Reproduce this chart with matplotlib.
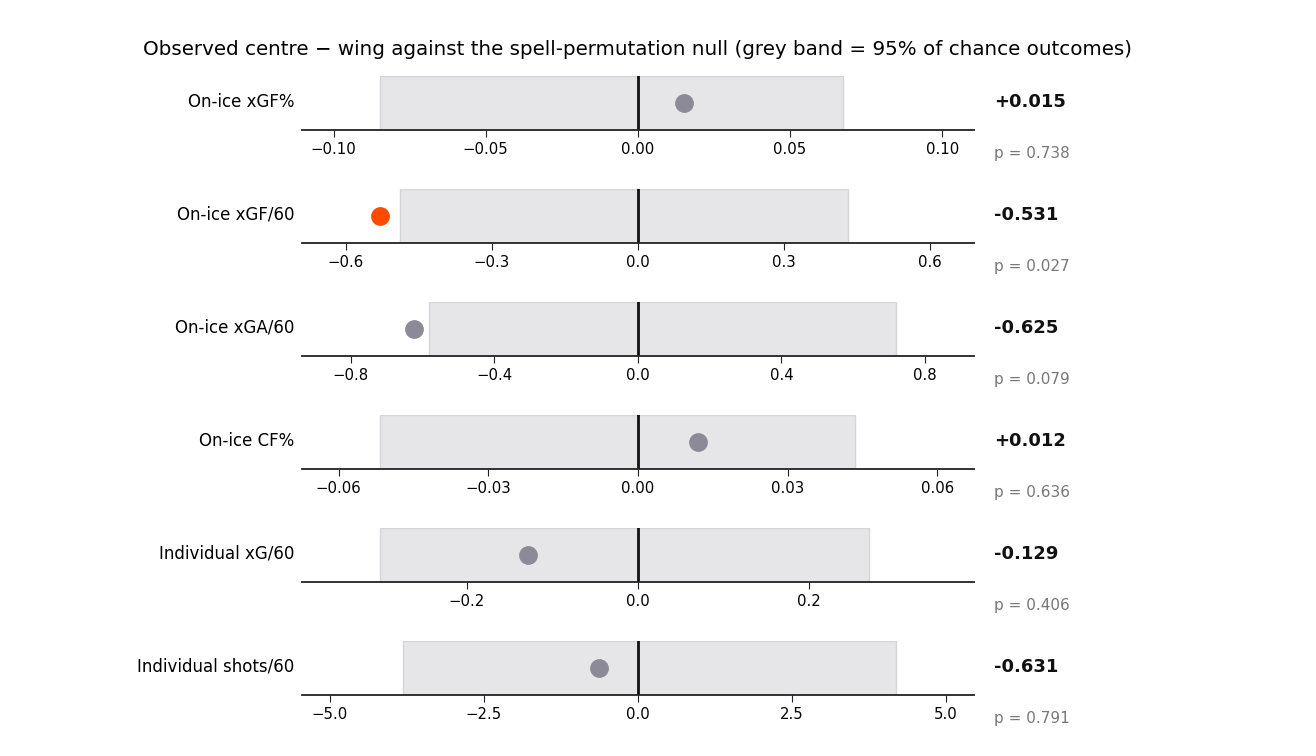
import numpy as np
import matplotlib.pyplot as plt

# metrics, observed centre - wing difference, null 95% band, permutation p
metrics = ["On-ice xGF%", "On-ice xGF/60", "On-ice xGA/60",
           "On-ice CF%", "Individual xG/60", "Individual shots/60"]
observed = [0.015, -0.531, -0.625, 0.012, -0.129, -0.631]
null_lo = [-0.0849, -0.489, -0.582, -0.0518, -0.302, -3.82]
null_hi = [0.0675, 0.4315, 0.720, 0.0436, 0.2695, 4.195]
p_values = [0.738, 0.027, 0.079, 0.636, 0.406, 0.791]
tick_sets = [
    [-0.10, -0.05, 0.00, 0.05, 0.10],
    [-0.6, -0.3, 0.0, 0.3, 0.6],
    [-0.8, -0.4, 0.0, 0.4, 0.8],
    [-0.06, -0.03, 0.00, 0.03, 0.06],
    [-0.2, 0.0, 0.2],
    [-5.0, -2.5, 0.0, 2.5, 5.0],
]
tick_fmt = ["{:.2f}", "{:.1f}", "{:.1f}", "{:.2f}", "{:.1f}", "{:.1f}"]

fig, axes = plt.subplots(6, 1, figsize=(13.16, 7.56), dpi=100)
fig.subplots_adjust(left=0.2295, right=0.740, top=0.8995, bottom=0.0807,
                    hspace=1.09)

for i, ax in enumerate(axes):
    lo, hi, obs = null_lo[i], null_hi[i], observed[i]
    m = 1.3 * max(abs(lo), abs(hi), abs(obs))
    ax.axvspan(lo, hi, ymin=0, ymax=1, color="#e6e6e9",
               ec="#d6d6da", lw=1, zorder=1)
    ax.axvline(0, color="#111111", lw=2, zorder=2)
    col = "#ff4a00" if p_values[i] < 0.05 else "#8b8a96"
    ax.plot([obs], [0.5], "o", color=col, ms=12.5, zorder=3)
    ax.set_xlim(-m, m)
    ax.set_ylim(0, 1)
    ax.set_yticks([])
    ax.set_xticks(tick_sets[i])
    ax.set_xticklabels([tick_fmt[i].format(t).replace("-", "\u2212")
                        for t in tick_sets[i]])
    ax.tick_params(axis="x", labelsize=10.7, color="#222222", length=5)
    for s in ["left", "right", "top"]:
        ax.spines[s].set_visible(False)
    ax.spines["bottom"].set_color("#222222")
    ax.spines["bottom"].set_linewidth(1.3)

    ax.text(-0.011, 0.52, metrics[i], transform=ax.transAxes,
            ha="right", va="center", fontsize=12)
    ax.text(1.03, 0.52, f"{obs:+.3f}", transform=ax.transAxes,
            ha="left", va="center", fontsize=13, fontweight="bold",
            color="#111111")
    ax.text(1.03, -0.43, f"p = {p_values[i]:.3f}", transform=ax.transAxes,
            ha="left", va="center", fontsize=11, color="#777777")

fig.text(0.4848, 0.935,
         "Observed centre \u2212 wing against the spell-permutation null "
         "(grey band = 95% of chance outcomes)",
         ha="center", va="center", fontsize=14.35)

fig.savefig("out.png", dpi=100)
